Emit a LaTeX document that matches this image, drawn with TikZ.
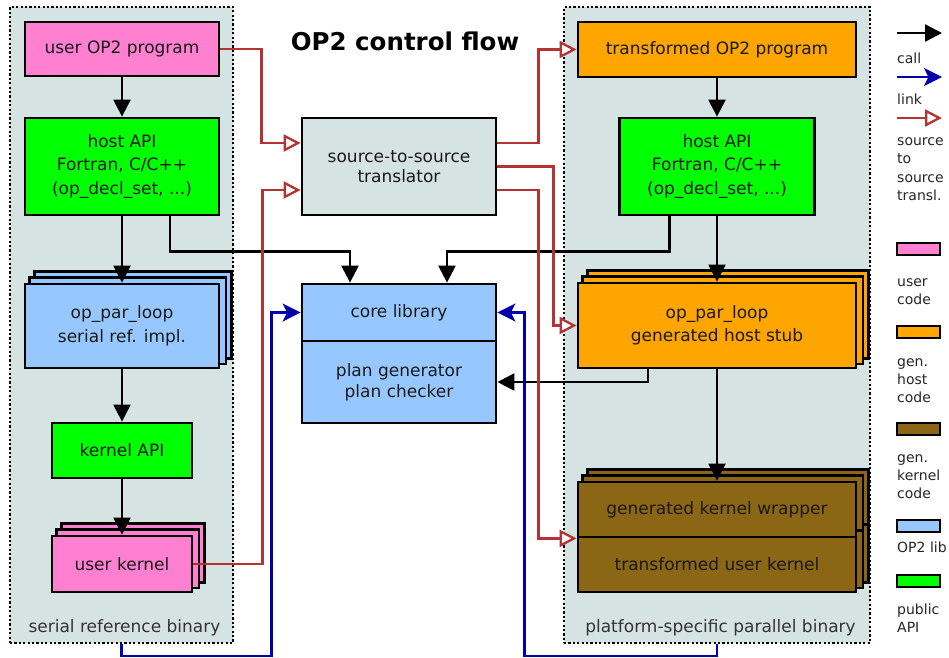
\documentclass[tikz,border=0pt]{standalone}
\usepackage{fontspec}
\setmainfont{DejaVu Sans}
\usetikzlibrary{arrows.meta}
\pgfdeclarelayer{bg}
\pgfdeclarelayer{stack}
\pgfsetlayers{bg,stack,main}

\definecolor{usercol}{RGB}{255,128,208}
\definecolor{apicol}{RGB}{0,255,0}
\definecolor{hostcol}{RGB}{255,165,0}
\definecolor{kerncol}{RGB}{139,102,20}
\definecolor{libcol}{RGB}{150,200,255}
\definecolor{bincol}{RGB}{214,227,227}
\definecolor{srccol}{RGB}{180,50,50}
\definecolor{linkcol}{RGB}{0,0,170}

\newcommand\boxfont{\fontsize{17}{23.5}\selectfont}
\newcommand\legfont{\fontsize{14}{18}\selectfont}

\tikzset{
  boxline/.style={draw=black, line width=2.8pt},
  box/.style={boxline, inner sep=0pt, align=center, font=\boxfont, text=black!90},
  binary/.style={draw=black, line width=2.4pt, dash pattern=on 2.2pt off 2.2pt, fill=bincol, inner sep=0pt},
  binlabel/.style={font=\boxfont, text=black!80, anchor=base, inner sep=0pt},
  call/.style={draw=black, line width=2.3pt, -{Triangle[length=17pt,width=17pt]}},
  link/.style={draw=linkcol, line width=2.3pt, -{Stealth[length=18pt,width=18pt,inset=4.5pt]}},
  src/.style={draw=srccol, line width=2.3pt, -{Triangle[length=17pt,width=17pt,fill=white]}},
  swatch/.style={boxline, line width=2.4pt, minimum width=43pt, minimum height=12pt, inner sep=0pt},
  legtext/.style={font=\legfont, text=black!85, anchor=base west, inner sep=0pt},
}

% one copy of a box, shifted up and to the right, behind the box itself
\newcommand\stacklayer[3]{%
  \draw[boxline,fill=#3] ([shift={(#2,#2)}]#1.south west) rectangle ([shift={(#2,#2)}]#1.north east);}

\begin{document}
\begin{tikzpicture}[x=1pt,y=-1pt]
\useasboundingbox (0,0) rectangle (949,657);

% the two binaries
\begin{pgfonlayer}{bg}
  \fill[white] (0,0) rectangle (949,657);
  \node[binary, minimum width=223pt, minimum height=636pt] (serialbin) at (121.5,325) {};
  \node[binary, minimum width=306pt, minimum height=636pt] (parbin) at (717,325) {};
\end{pgfonlayer}

\node[binlabel] (serlabel) at (124.5,632) {serial reference binary};
\node[binlabel] (parlabel) at (720.5,632) {platform-specific parallel binary};

% title
\node[font=\fontsize{24.5}{29}\selectfont\bfseries, anchor=base, inner sep=0pt] (title) at (405,50) {OP2 control flow};

% serial reference binary
\node[box, fill=usercol, minimum width=194pt, minimum height=54pt] (uprog) at (122,49) {user OP2 program};
\node[box, fill=apicol, minimum width=194pt, minimum height=97pt] (hapiL) at (122,166.5) {host API\\Fortran, C/C++\\(op\_decl\_set, ...)};
\node[box, fill=libcol, minimum width=194pt, minimum height=84pt] (ploopL) at (122,326) {op\_par\_loop\\serial ref. impl.};
\node[box, fill=apicol, minimum width=140pt, minimum height=55pt] (kapi) at (122,450.5) {kernel API};
\node[box, fill=usercol, minimum width=140pt, minimum height=56pt] (ukern) at (122,564) {user kernel};

% translator and library
\node[box, fill=bincol, minimum width=194pt, minimum height=97pt, font=\fontsize{17}{20.5}\selectfont] (trans) at (399,166.5) {source-to-source\\translator};
\node[box, fill=libcol, minimum width=194pt, minimum height=57pt] (coreA) at (399,312.5) {core library};
\node[box, fill=libcol, minimum width=194pt, minimum height=82pt, font=\fontsize{17}{21}\selectfont] (coreB) at (399,382) {plan generator\\plan checker};

% platform-specific parallel binary
\node[box, fill=hostcol, minimum width=278pt, minimum height=55pt] (tprog) at (717,49.5) {transformed OP2 program};
\node[box, fill=apicol, minimum width=195pt, minimum height=97pt] (hapiR) at (717,166.5) {host API\\Fortran, C/C++\\(op\_decl\_set, ...)};
\node[box, fill=hostcol, minimum width=278pt, minimum height=85pt] (ploopR) at (717,325.5) {op\_par\_loop\\generated host stub};
\node[box, fill=kerncol, minimum width=278pt, minimum height=55pt] (kwrap) at (717,509.5) {generated kernel wrapper};
\node[box, fill=kerncol, minimum width=278pt, minimum height=55pt] (kuser) at (717,564.5) {transformed user kernel};

% stacked copies behind the per-loop boxes
\begin{pgfonlayer}{stack}
  \foreach \d in {11pt,5.5pt}{
    \stacklayer{ploopL}{\d}{libcol}
    \stacklayer{ukern}{\d}{usercol}
    \stacklayer{ploopR}{\d}{hostcol}
    \stacklayer{kwrap}{\d}{kerncol}
    \stacklayer{kuser}{\d}{kerncol}
  }
\end{pgfonlayer}

% calls
\draw[call] (uprog) -- (hapiL);
\draw[call] (hapiL) -- (ploopL);
\draw[call] (ploopL) -- (kapi);
\draw[call] (kapi) -- (ukern);
\draw[call] ([xshift=48pt]hapiL.south) -- ++(0,35) -| ([xshift=-49pt]coreA.north);
\draw[call] ([xshift=-47.5pt]hapiR.south) -- ++(0,35) -| ([xshift=48pt]coreA.north);
\draw[call] (tprog) -- (hapiR);
\draw[call] (hapiR) -- (ploopR);
\draw[call] ([xshift=-69pt]ploopR.south) |- (coreB.east);
\draw[call] (ploopR) -- (kwrap);

% source-to-source translation
\draw[src] (uprog.east) -- ++(41,0) |- ([yshift=23.5pt]trans.west);
\draw[src] (ukern.east) -- ++(69,0) |- ([yshift=-23.5pt]trans.west);
\draw[src] ([yshift=23.5pt]trans.east) -- ++(41,0) |- (tprog.west);
\draw[src] (trans.east) -- ++(56,0) |- (ploopR.west);
\draw[src] ([yshift=-23.5pt]trans.east) -- ++(41,0) |- (kwrap.south west);

% linking against the core library
\draw[link] (serialbin.south) -- ++(0,12) -| ([xshift=-29pt]coreA.west) -- (coreA.west);
\draw[link] (parbin.south) -- ++(0,12) -| ([xshift=27pt]coreA.east) -- (coreA.east);

% legend
\coordinate (callA) at (897,33);  \coordinate (callB) at (942,33);
\coordinate (linkA) at (897,77);  \coordinate (linkB) at (942,77);
\coordinate (srcA)  at (897,118); \coordinate (srcB)  at (942,118);
\draw[call] (callA) -- (callB);
\draw[link] (linkA) -- (linkB);
\draw[src]  (srcA) -- (srcB);
\node[legtext] (lcall) at (897,63) {call};
\node[legtext] (llink) at (897,104) {link};
\node[legtext] (lsrcA) at (897,145) {source};
\node[legtext] (lsrcB) at (897,163) {to};
\node[legtext] (lsrcC) at (897,182) {source};
\node[legtext] (lsrcD) at (897,200) {transl.};

\node[swatch, fill=usercol] (swuser) at (918.5,249) {};
\node[legtext] (luserA) at (897,286) {user};
\node[legtext] (luserB) at (897,304) {code};

\node[swatch, fill=hostcol] (swhost) at (918.5,332) {};
\node[legtext] (lhostA) at (897,366) {gen.};
\node[legtext] (lhostB) at (897,384) {host};
\node[legtext] (lhostC) at (897,402) {code};

\node[swatch, fill=kerncol] (swkern) at (918.5,429) {};
\node[legtext] (lkernA) at (897,462) {gen.};
\node[legtext] (lkernB) at (897,480) {kernel};
\node[legtext] (lkernC) at (897,498) {code};

\node[swatch, fill=libcol] (swlib) at (918.5,526) {};
\node[legtext] (llib) at (897,552) {OP2 lib};

\node[swatch, fill=apicol] (swapi) at (918.5,581) {};
\node[legtext] (lapiA) at (897,614) {public};
\node[legtext] (lapiB) at (897,632) {API};
\end{tikzpicture}
\end{document}
